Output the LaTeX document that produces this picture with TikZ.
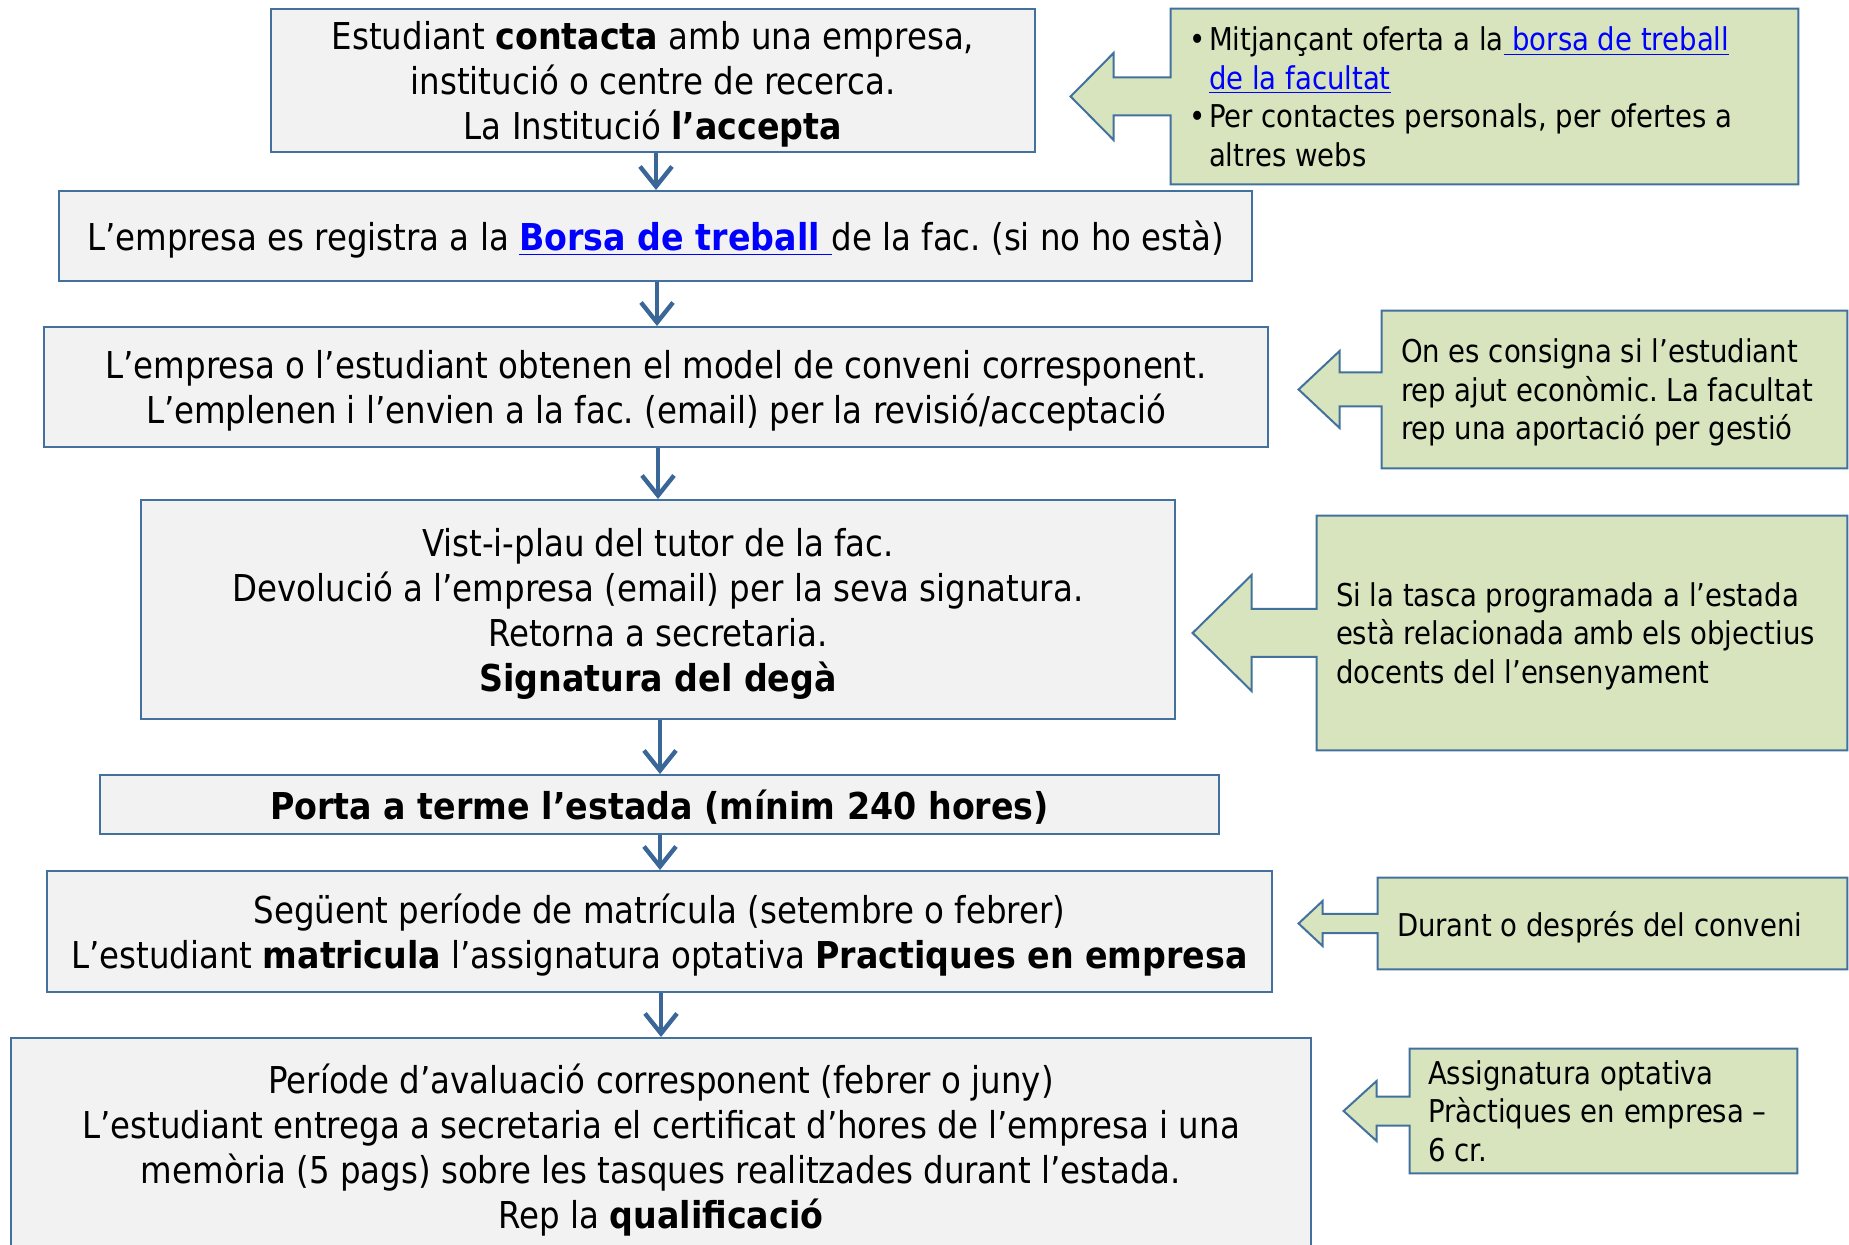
\documentclass[tikz,border=0pt]{standalone}
\usepackage{fontspec}
\setmainfont{DejaVu Sans}[FakeStretch=0.877,BoldFeatures={FakeStretch=0.9}]
\frenchspacing
\usetikzlibrary{arrows.meta,calc,backgrounds}
\definecolor{boxfill}{HTML}{F2F2F2}
\definecolor{boxline}{HTML}{41719C}
\definecolor{greenfill}{HTML}{D7E4BD}
\definecolor{arrowblue}{HTML}{3A6698}
\definecolor{linkblue}{HTML}{0000FF}
\newcommand\weblink[1]{{\color{linkblue}\underline{#1}}}
\newcommand\ctext[2]{\parbox[b]{#1}{\raggedright\frenchspacing #2}}
\newcommand\calloutshape[5]{%
  \draw[callshape] (#1.north west) -- (#1.north east) -- (#1.south east) -- (#1.south west)
    -- ($(#1.west)+(0,#5)$) -- ($(#1.west)+(-#3,#5)$) -- ($(#1.west)+(-#3,#4)$)
    -- ($(#1.west)+(-#2,0)$) -- ($(#1.west)+(-#3,-#4)$) -- ($(#1.west)+(-#3,-#5)$)
    -- ($(#1.west)+(0,-#5)$) -- cycle;}
\tikzset{
  flowbox/.style={draw=boxline, fill=boxfill, line width=1pt, align=center, inner sep=0pt,
    text depth=0pt, font=\fontsize{18.5}{22.5}\selectfont},
  callnode/.style={inner xsep=9.5pt, inner ysep=0pt, text depth=0pt,
    font=\fontsize{15.7}{19.25}\selectfont},
  callshape/.style={draw=boxline, fill=greenfill, line width=1pt, line join=miter},
  flowarrow/.style={draw=arrowblue, line width=2.2pt, -{Straight Barb[length=10pt,width=16pt]}}
}
\begin{document}
\begin{tikzpicture}[x=0.5pt,y=-0.5pt]
\useasboundingbox (0,0) rectangle (1849,1245);
\clip (0,0) rectangle (1849,1245);

% main flow boxes
\node[flowbox, minimum width=382pt, minimum height=71.5pt] (b1) at (653,80.5)
  {Estudiant \textbf{contacta} amb una empresa,\\ institució o centre de recerca.\\ La Institució \textbf{l’accepta}};
\node[flowbox, minimum width=596.5pt, minimum height=45pt] (b2) at (655.5,236)
  {L’empresa es registra a la \textbf{\weblink{Borsa de treball\ }}de la fac. (si no ho està)};
\node[flowbox, minimum width=612pt, minimum height=60pt] (b3) at (656,387)
  {L’empresa o l’estudiant obtenen el model de conveni corresponent.\\ L’emplenen i l’envien a la fac. (email) per la revisió/acceptació};
\node[flowbox, minimum width=517pt, minimum height=109.5pt] (b4) at (658,609.5)
  {Vist-i-plau del tutor de la fac.\\ Devolució a l’empresa (email) per la seva signatura.\\ Retorna a secretaria.\\ \textbf{Signatura del degà}};
\node[flowbox, minimum width=559.5pt, minimum height=29.5pt] (b5) at (659.5,804.5)
  {\textbf{Porta a terme l’estada (mínim 240 hores)}};
\node[flowbox, minimum width=612.5pt, minimum height=60.5pt] (b6) at (659.5,931.5)
  {Següent període de matrícula (setembre o febrer)\\ L’estudiant \textbf{matricula} l’assignatura optativa \textbf{Practiques en empresa}};
\node[flowbox, minimum width=650pt, minimum height=108pt] (b7) at (661,1146)
  {Període d’avaluació corresponent (febrer o juny)\\ L’estudiant entrega a secretaria el certificat d’hores de l’empresa i una\\ memòria (5 pags) sobre les tasques realitzades durant l’estada.\\ Rep la \textbf{qualificació}};

% vertical connectors
\coordinate (x1) at (656,0);
\coordinate (x2) at (657,0);
\coordinate (x3) at (658,0);
\coordinate (x4) at (660,0);
\coordinate (x5) at (660,0);
\coordinate (x6) at (661,0);
\draw[flowarrow] (b1.south -| x1) -- (b2.north -| x1);
\draw[flowarrow] (b2.south -| x2) -- (b3.north -| x2);
\draw[flowarrow] (b3.south -| x3) -- (b4.north -| x3);
\draw[flowarrow] (b4.south -| x4) -- (b5.north -| x4);
\draw[flowarrow] (b5.south -| x5) -- (b6.north -| x5);
\draw[flowarrow] (b6.south -| x6) -- (b7.north -| x6);

% callouts
\node[callnode, inner xsep=9pt, minimum height=87.5pt] (c1) at (1484.5,96.5)
  {\ctext{295.5pt}{\makebox[10pt][l]{•}Mitjançant oferta a la\weblink{\ borsa de treball}\\
   \hspace*{10pt}\weblink{de la facultat}\\
   \makebox[10pt][l]{•}Per contactes personals, per ofertes a\\
   \hspace*{10pt}altres webs}};
\node[callnode, minimum height=78.5pt] (c3) at (1614.5,389.5)
  {\ctext{213.5pt}{On es consigna si l’estudiant\\ rep ajut econòmic. La facultat\\ rep una aportació per gestió}};
\node[callnode, minimum height=117pt] (c4) at (1582,633)
  {\ctext{246pt}{Si la tasca programada a l’estada\\ està relacionada amb els objectius\\ docents del l’ensenyament}};
\node[callnode, minimum height=45.5pt] (c6) at (1612.5,923.5)
  {\ctext{215.5pt}{Durant o després del conveni}};
\node[callnode, inner xsep=9pt, minimum height=62pt] (c7) at (1603.5,1111)
  {\ctext{175.5pt}{Assignatura optativa\\ Pràctiques en empresa –\\ 6 cr.}};

\begin{scope}[on background layer]
  \calloutshape{c1}{100}{57}{43.5}{19}
  \calloutshape{c3}{83}{42}{38.5}{17}
  \calloutshape{c4}{124}{65}{58}{24}
  \calloutshape{c6}{79}{55}{22.5}{9.5}
  \calloutshape{c7}{66}{33}{30}{14.5}
\end{scope}
\end{tikzpicture}
\end{document}
